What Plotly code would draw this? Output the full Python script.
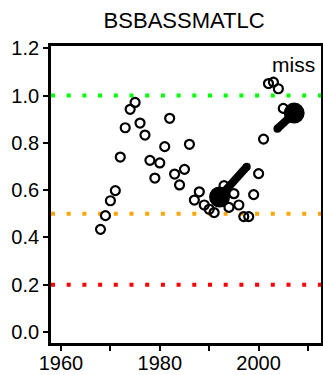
import plotly.graph_objects as go

# ---- data ----
years = [1968, 1969, 1970, 1971, 1972, 1973, 1974, 1975, 1976, 1977,
         1978, 1979, 1980, 1981, 1982, 1983, 1984, 1985, 1986, 1987,
         1988, 1989, 1990, 1991, 1993, 1994, 1995, 1996, 1997, 1998,
         1999, 2000, 2001, 2002, 2003, 2004, 2005]
values = [0.434, 0.492, 0.555, 0.598, 0.740, 0.864, 0.942, 0.971, 0.884, 0.833,
          0.726, 0.651, 0.715, 0.784, 0.904, 0.668, 0.622, 0.688, 0.794, 0.558,
          0.593, 0.537, 0.519, 0.505, 0.619, 0.527, 0.585, 0.537, 0.488, 0.488,
          0.581, 0.670, 0.816, 1.051, 1.057, 1.029, 0.946]

# trend segments: big dot at start, line toward end
trend_start_year = [1992.1, 2007.2]
trend_start_val = [0.571, 0.926]
trend_end_year = [1997.6, 2003.8]
trend_end_val = [0.699, 0.860]

ref_levels = [1.0, 0.5, 0.2]
ref_colors = ["#00FF00", "#FFA500", "#FF0000"]

x_tickvals = [1960, 1970, 1980, 1990, 2000, 2010]
x_ticktext = ["1960", "", "1980", "", "2000", ""]
y_tickvals = [0.0, 0.2, 0.4, 0.6, 0.8, 1.0, 1.2]

title_text = "BSBASSMATLC"
note_text = "miss"

FONT = "Liberation Sans, Arial, Helvetica, sans-serif"

fig = go.Figure()

fig.add_trace(go.Scatter(
    x=years, y=values, mode="markers",
    marker=dict(symbol="circle-open", size=9, color="black", opacity=1,
                line=dict(width=2.2, color="black")),
    showlegend=False, hoverinfo="x+y"))

for xs, ys, xe, ye in zip(trend_start_year, trend_start_val, trend_end_year, trend_end_val):
    fig.add_trace(go.Scatter(
        x=[xs, xe], y=[ys, ye], mode="lines+markers",
        line=dict(color="black", width=8),
        marker=dict(size=[21, 8], color="black", opacity=1, line=dict(width=0)),
        showlegend=False))

for lvl, col in zip(ref_levels, ref_colors):
    fig.add_shape(type="line", xref="paper", x0=0, x1=1, yref="y", y0=lvl, y1=lvl,
                  line=dict(color=col, width=4, dash="4px,11.7px"), layer="below")

fig.add_annotation(text=note_text, xref="paper", x=1, xanchor="right", xshift=-4,
                   yref="y", y=1.13, yanchor="middle", showarrow=False,
                   font=dict(family=FONT, size=21, color="black"))

fig.update_layout(
    width=323, height=375,
    margin=dict(l=51, r=2, t=46, b=32),
    paper_bgcolor="white", plot_bgcolor="white",
    font=dict(family=FONT, color="black"),
    title=dict(text=title_text, x=0.57, xanchor="center", y=1 - 20 / 375,
               yanchor="middle", yref="container",
               font=dict(family=FONT, size=22, color="black")),
    xaxis=dict(range=[1957.98, 2012.63], tickvals=x_tickvals, ticktext=x_ticktext,
               ticks="outside", ticklen=5, tickwidth=2, tickcolor="black",
               showline=True, linewidth=2.8, linecolor="black", mirror=True,
               showgrid=False, zeroline=False, automargin=False,
               ticklabelstandoff=-5,
               tickfont=dict(family=FONT, size=20, color="black")),
    yaxis=dict(range=[-0.047, 1.21], tickvals=y_tickvals, tickformat=".1f",
               ticks="outside", ticklen=5, tickwidth=2, tickcolor="black",
               showline=True, linewidth=2.8, linecolor="black", mirror=True,
               showgrid=False, zeroline=False, automargin=False,
               tickfont=dict(family=FONT, size=20, color="black")),
)

fig.write_html("out.html")
